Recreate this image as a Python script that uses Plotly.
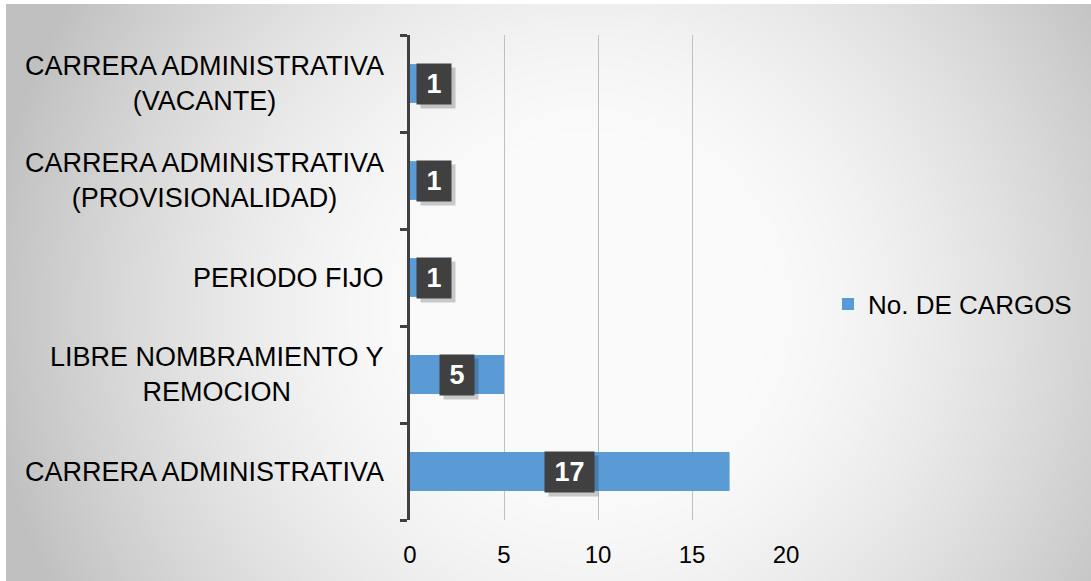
import base64
import struct
import zlib

import numpy as np
import plotly.graph_objects as go

# ---------------- data ----------------
categories = [
    "CARRERA ADMINISTRATIVA",
    "LIBRE NOMBRAMIENTO Y<br>REMOCION",
    "PERIODO FIJO",
    "CARRERA ADMINISTRATIVA<br>(PROVISIONALIDAD)",
    "CARRERA ADMINISTRATIVA<br>(VACANTE)",
]
values = [17, 5, 1, 1, 1]
series_name = "No. DE CARGOS"
x_ticks = [0, 5, 10, 15, 20]

# ---------------- layout constants ----------------
W, H = 1091, 581
ML, MR, MT, MB = 410, 305, 35, 61
PW, PH = W - ML - MR, H - MT - MB
XMAX = 20
PX_PER_UNIT = PW / XMAX
FONT = "Liberation Sans, Arial, sans-serif"
BAR_COLOR = "#5B9BD5"


# ---------------- radial gradient background (PNG data URI) ----------------
def make_png(arr):
    h, w, _ = arr.shape
    raw = b"".join(b"\x00" + arr[r].tobytes() for r in range(h))

    def chunk(tag, data):
        c = struct.pack(">I", len(data)) + tag + data
        return c + struct.pack(">I", zlib.crc32(tag + data) & 0xFFFFFFFF)

    return (b"\x89PNG\r\n\x1a\n"
            + chunk(b"IHDR", struct.pack(">IIBBBBB", w, h, 8, 2, 0, 0, 0))
            + chunk(b"IDAT", zlib.compress(raw, 9))
            + chunk(b"IEND", b""))


BG_X0, BG_Y0 = 6, 4
step = 2
gw, gh = (W - BG_X0) // step, (H - BG_Y0) // step
xs = BG_X0 + (np.arange(gw) + 0.5) * step
ys = BG_Y0 + (np.arange(gh) + 0.5) * step
XX, YY = np.meshgrid(xs, ys)
d = np.sqrt((XX - 590) ** 2 + (YY - 310) ** 2)
t = np.clip((d - 180) / (610 - 180), 0, 1)
v = 250 - 58 * t ** 1.4
img = np.repeat(v[:, :, None], 3, axis=2).astype(np.uint8)
uri = "data:image/png;base64," + base64.b64encode(make_png(img)).decode()

# ---------------- figure ----------------
fig = go.Figure()
fig.add_trace(go.Bar(
    y=categories, x=values, orientation="h", name=series_name,
    marker=dict(color=BAR_COLOR, line=dict(width=0)), width=0.4,
    showlegend=True, hoverinfo="x+y",
))

fig.add_layout_image(dict(
    source=uri, xref="paper", yref="paper",
    x=(BG_X0 - ML) / PW, y=(H - MB - BG_Y0) / PH,
    sizex=(W - BG_X0) / PW, sizey=(H - BG_Y0) / PH,
    xanchor="left", yanchor="top", sizing="stretch", layer="below",
))

annotations = []
# category labels (centered multi-line, right-aligned block)
for c in categories:
    annotations.append(dict(
        x=0, xref="paper", y=c, yref="y", text=c, showarrow=False,
        xanchor="right", yanchor="middle", xshift=-24, align="center",
        font=dict(family=FONT, size=27, color="#000000"),
    ))

# data labels: dark boxes with white bold numbers
for c, val in zip(categories, values):
    txt = str(val)
    bw = 32 if len(txt) == 1 else 47
    bh = 38
    if val / 2 * PX_PER_UNIT < bw / 2 + 6:
        ax, anchor, shift = 0, "left", 6
    else:
        ax, anchor, shift = val / 2, "center", 0
    # shadow
    annotations.append(dict(
        x=ax, y=c, xref="x", yref="y", text=" ", showarrow=False,
        xanchor=anchor, yanchor="middle", xshift=shift + 4, yshift=-4,
        width=bw, height=bh, bgcolor="rgba(0,0,0,0.2)",
        font=dict(family=FONT, size=26),
    ))
    annotations.append(dict(
        x=ax, y=c, xref="x", yref="y", text=f"<b>{txt}</b>", showarrow=False,
        xanchor=anchor, yanchor="middle", xshift=shift,
        width=bw, height=bh, bgcolor="#404040",
        font=dict(family=FONT, size=27, color="#FFFFFF"),
    ))

fig.update_layout(
    width=W, height=H,
    margin=dict(l=ML, r=MR, t=MT, b=MB, autoexpand=False),
    paper_bgcolor="#FFFFFF", plot_bgcolor="rgba(0,0,0,0)",
    font=dict(family=FONT, size=26, color="#000000"),
    annotations=annotations,
    bargap=0.6,
    legend=dict(
        x=(828 - ML) / PW, y=(H - MB - 304) / PH, xanchor="left", yanchor="middle",
        bgcolor="rgba(0,0,0,0)", font=dict(family=FONT, size=26, color="#000000"),
        itemwidth=30,
    ),
    xaxis=dict(
        range=[0, XMAX], tickvals=x_ticks, ticktext=[str(t) for t in x_ticks],
        showgrid=True, gridcolor="#BFBFBF", gridwidth=1, zeroline=False,
        showline=False, ticks="", ticklabelstandoff=18,
        tickfont=dict(family=FONT, size=24, color="#000000"), fixedrange=True,
    ),
    yaxis=dict(
        categoryorder="array", categoryarray=categories,
        showticklabels=False, showgrid=False, zeroline=False,
        showline=True, linecolor="#404040", linewidth=3,
        ticks="outside", tickson="boundaries", ticklen=7, tickwidth=3,
        tickcolor="#404040", fixedrange=True,
    ),
)

fig.write_html(
    "out.html",
    config={"displayModeBar": False},
    post_script="document.body.style.margin='0';document.body.style.overflow='hidden';",
)
